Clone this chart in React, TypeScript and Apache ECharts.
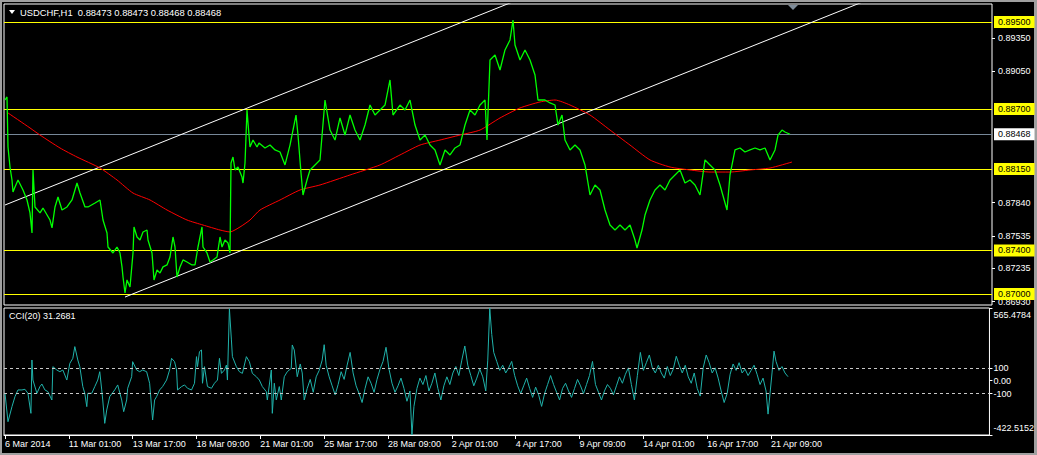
import React, { useEffect, useRef } from "react";
import * as echarts from "echarts";

const FONT = "Liberation Sans";
const symbolTitle = "USDCHF,H1  0.88473 0.88473 0.88468 0.88468";
const cciTitle = "CCI(20) 31.2681";
const timeLabels = ["6 Mar 2014", "11 Mar 01:00", "13 Mar 17:00", "18 Mar 09:00", "21 Mar 01:00", "25 Mar 17:00", "28 Mar 09:00", "2 Apr 01:00", "4 Apr 17:00", "9 Apr 09:00", "14 Apr 01:00", "16 Apr 17:00", "21 Apr 09:00"];
const barsPerLabel = 64;
const barCount = 987;
const priceTicks = [0.8935, 0.8905, 0.8784, 0.87535, 0.87235, 0.8693];
const levelLines = [0.895, 0.887, 0.8815, 0.874, 0.87];
const lastPrice = 0.88468;
const priceMin = 0.868989;
const priceMax = 0.896654;
const cciMin = -422.5152;
const cciMax = 565.4784;
const cciLevels = [100, -100];
const cciTicks = [565.4784, 100, 0, -100, -422.5152];
const cciTickLabels = ["565.4784", "100", "0.00", "-100", "-422.5152"];

// [bar index, price]
const price: [number, number][] = [
  [0, 0.88783], [2, 0.88811], [3, 0.88351], [5, 0.88167], [7, 0.88048], [8, 0.87938], [10, 0.87983], [13, 0.88048],
  [18, 0.87956], [22, 0.87864], [25, 0.87745], [27, 0.87561], [28, 0.8814], [30, 0.878], [35, 0.87745], [38, 0.8779],
  [45, 0.8768], [47, 0.87607], [50, 0.878], [53, 0.87892], [57, 0.87772], [62, 0.878], [67, 0.87864], [72, 0.8802],
  [75, 0.87928], [80, 0.878], [83, 0.878], [90, 0.87836], [95, 0.87864], [98, 0.8768], [102, 0.87561], [103, 0.87432],
  [108, 0.87377], [112, 0.87432], [115, 0.87377], [117, 0.87249], [118, 0.87156], [120, 0.87009], [122, 0.87129], [125, 0.87064],
  [128, 0.87377], [129, 0.87616], [132, 0.87524], [135, 0.87496], [138, 0.8757], [142, 0.87588], [143, 0.87496], [147, 0.87377],
  [149, 0.87129], [152, 0.87221], [155, 0.87193], [158, 0.87249], [162, 0.87267], [165, 0.8734], [168, 0.87524], [170, 0.87432],
  [172, 0.87156], [175, 0.87249], [178, 0.87313], [182, 0.87294], [187, 0.87267], [190, 0.87267], [193, 0.87432], [197, 0.87616],
  [198, 0.87432], [202, 0.87377], [205, 0.87294], [208, 0.87313], [212, 0.8734], [215, 0.87524], [217, 0.87432], [220, 0.87496],
  [223, 0.87469], [225, 0.87377], [226, 0.88204], [228, 0.88259], [230, 0.8814], [233, 0.88167], [237, 0.88075], [238, 0.8802],
  [240, 0.88204], [242, 0.88691], [243, 0.88572], [245, 0.88351], [248, 0.88415], [252, 0.88351], [254, 0.88388], [260, 0.88342],
  [265, 0.88369], [270, 0.88324], [275, 0.88305], [280, 0.88186], [285, 0.88369], [291, 0.88645], [293, 0.88461], [296, 0.88112],
  [298, 0.8791], [302, 0.88048], [305, 0.8814], [310, 0.88186], [315, 0.88232], [320, 0.88783], [325, 0.88507], [330, 0.88415],
  [335, 0.88618], [340, 0.88461], [345, 0.88645], [350, 0.88507], [355, 0.88415], [360, 0.88553], [365, 0.88737], [370, 0.88645],
  [375, 0.88691], [380, 0.88737], [385, 0.88967], [388, 0.88645], [395, 0.88737], [400, 0.88691], [405, 0.88783], [410, 0.88553],
  [415, 0.88415], [420, 0.88461], [425, 0.88369], [430, 0.88324], [435, 0.88186], [440, 0.88324], [445, 0.88278], [450, 0.88342],
  [455, 0.88369], [460, 0.88553], [465, 0.88691], [470, 0.88645], [475, 0.88737], [480, 0.88783], [482, 0.88415], [485, 0.89151],
  [490, 0.89197], [495, 0.89059], [500, 0.89243], [505, 0.89335], [508, 0.89518], [510, 0.89289], [515, 0.89151], [520, 0.89243],
  [525, 0.89151], [530, 0.89013], [533, 0.88783], [540, 0.88783], [545, 0.88756], [550, 0.88737], [553, 0.88553], [557, 0.88645],
  [560, 0.88415], [565, 0.88324], [570, 0.88369], [575, 0.88324], [580, 0.88186], [585, 0.8791], [590, 0.88002], [595, 0.87956],
  [600, 0.87772], [605, 0.87634], [610, 0.87588], [615, 0.87634], [620, 0.87588], [625, 0.87634], [630, 0.87496], [632, 0.87423],
  [637, 0.87588], [640, 0.87726], [645, 0.87864], [650, 0.87956], [655, 0.88002], [660, 0.87956], [665, 0.88048], [670, 0.88094],
  [675, 0.8814], [680, 0.8802], [685, 0.88048], [690, 0.88002], [695, 0.8791], [700, 0.88232], [705, 0.88186], [710, 0.8814],
  [715, 0.88002], [722, 0.87772], [725, 0.88094], [730, 0.88324], [735, 0.88342], [740, 0.88305], [745, 0.88324], [750, 0.88342],
  [755, 0.88324], [760, 0.88342], [765, 0.88232], [770, 0.88324], [773, 0.88461], [777, 0.88507], [780, 0.88489], [785, 0.88468],
];

const movingAverage: [number, number][] = [
  [3, 0.88664], [25, 0.88526], [35, 0.88461], [55, 0.88342], [72, 0.88259], [95, 0.88158], [112, 0.88048], [128, 0.87928],
  [145, 0.87864], [162, 0.87772], [182, 0.8768], [198, 0.87634], [215, 0.87588], [225, 0.8757], [235, 0.87616], [245, 0.8768],
  [255, 0.87772], [275, 0.87864], [295, 0.87956], [315, 0.88002], [345, 0.88094], [375, 0.88186], [395, 0.88278], [415, 0.88369],
  [435, 0.88415], [455, 0.88461], [475, 0.88507], [495, 0.88618], [515, 0.8871], [535, 0.88765], [550, 0.88783], [565, 0.88737],
  [585, 0.88645], [605, 0.88507], [625, 0.88369], [645, 0.88232], [665, 0.88167], [685, 0.8814], [705, 0.88121], [725, 0.88121],
  [745, 0.8814], [765, 0.88158], [787, 0.88213],
];

const channelUpper: [number, number][] = [[0, 0.87818], [520, 0.8973]];
const channelLower: [number, number][] = [[120, 0.86972], [900, 0.8984]];

const cci: [number, number][] = [
  [0, -98], [3, -319], [7, -202], [10, -124], [13, -72], [17, -72], [20, -67], [23, -98], [26, -254], [27, 161], [28, 5],
  [32, -98], [35, -46], [37, -26], [40, -72], [43, -85], [47, -150], [48, 109], [52, 83], [55, 70], [58, 83], [62, 5],
  [65, 135], [68, 174], [70, 265], [73, 161], [75, 109], [78, -46], [80, -98], [82, -202], [83, -98], [87, -98], [90, -46],
  [93, 5], [95, 70], [97, -72], [98, -150], [100, -332], [102, -228], [105, -124], [110, -72], [113, -33], [117, -150],
  [119, -241], [122, -150], [123, -59], [127, 31], [128, 148], [132, 83], [135, 70], [138, 83], [142, 70], [145, -20],
  [148, -306], [150, -150], [152, -124], [155, -72], [158, -46], [162, 5], [165, 83], [167, 174], [170, 148], [172, 83],
  [173, -72], [177, -46], [180, -33], [183, -59], [187, -72], [190, -20], [192, 187], [193, 109], [195, 226], [197, 239],
  [198, -20], [200, 109], [203, -46], [207, -59], [210, -20], [213, 5], [215, 174], [217, 57], [220, 83], [222, 122],
  [223, 5], [225, 560], [227, 317], [228, 187], [232, 109], [235, 70], [238, 57], [242, 187], [245, 148], [248, 57],
  [252, 31], [255, 5], [258, -46], [262, -85], [263, -150], [267, 83], [268, -254], [270, -20], [272, -150], [275, -46],
  [277, -150], [280, 31], [283, 70], [287, 96], [288, 278], [290, 239], [293, 31], [296, 130], [298, 60], [300, -150],
  [303, -60], [306, 10], [309, -90], [312, 30], [315, 80], [318, 160], [320, 280], [322, 120], [325, 30], [328, -40],
  [331, -110], [334, -30], [337, 70], [340, 10], [343, 120], [346, 220], [349, 60], [352, -40], [355, -100], [358, -170],
  [361, -60], [364, 30], [367, -20], [370, -90], [373, 10], [376, 90], [379, 150], [382, 260], [385, 90], [388, -20],
  [391, -90], [394, -40], [397, 20], [400, -60], [403, -160], [406, -80], [408, -422], [410, -200], [413, -60], [416, 20],
  [419, -30], [422, 40], [425, -80], [428, -20], [431, 60], [434, -60], [437, -150], [440, -40], [443, 30], [446, -30],
  [449, 60], [452, 110], [455, 40], [458, 160], [461, 270], [464, 120], [467, 40], [470, -40], [473, 20], [476, 90],
  [479, 30], [482, -80], [484, 160], [486, 565], [488, 360], [490, 220], [493, 150], [496, 80], [499, 120], [502, 60],
  [505, 100], [508, 150], [511, 40], [514, -40], [517, -100], [520, -40], [523, 20], [526, -60], [529, -130], [532, -50],
  [535, -110], [538, -200], [541, -100], [544, -30], [547, 40], [550, -30], [553, -90], [556, -150], [559, -60], [562, -20],
  [565, -80], [568, -130], [571, -60], [574, 10], [577, -40], [580, -100], [583, -30], [586, 40], [589, 150], [592, -30],
  [595, -90], [598, -150], [601, -80], [604, -30], [607, -60], [610, -110], [613, -40], [616, 30], [619, -20], [622, 50],
  [625, 100], [628, -30], [631, -150], [634, 40], [637, 220], [640, 80], [643, 140], [646, 200], [649, 100], [652, 60],
  [655, 120], [658, 60], [661, 20], [664, 110], [667, 40], [670, 90], [673, 190], [676, 120], [679, 60], [682, 120],
  [685, 30], [688, -20], [691, 60], [694, -60], [697, -120], [700, 100], [703, 200], [706, 140], [709, 60], [712, 100],
  [715, 20], [718, -80], [721, -170], [724, -100], [727, 50], [730, 130], [733, 80], [736, 140], [739, 60], [742, 90],
  [745, 40], [748, 80], [751, 120], [754, 50], [757, -30], [760, 20], [763, -80], [765, -260], [767, -100], [769, 60],
  [771, 230], [773, 150], [776, 80], [779, 110], [782, 60], [785, 31.2681],
];

const tickIdx = timeLabels.map((_, i) => i * barsPerLabel);

function buildOption(): any {
  const txt = { fontFamily: FONT, fontSize: 9 };
  const levelData: any[] = levelLines.map((v) => ({
    yAxis: v,
    lineStyle: { color: "#ffff00", width: 1, type: "solid" },
    label: { backgroundColor: "#ffff00", color: "#000" },
  }));
  levelData.push({
    yAxis: lastPrice,
    lineStyle: { color: "#778899", width: 1, type: "solid" },
    label: { backgroundColor: "#ffffff", color: "#000" },
  });
  return {
    animation: false,
    backgroundColor: "transparent",
    textStyle: txt,
    grid: [
      { left: 4, top: 4, width: 988, height: 301, show: true, borderColor: "#ffffff", borderWidth: 1, backgroundColor: "transparent" },
      { left: 4, top: 308, width: 988, height: 127, show: true, borderColor: "#ffffff", borderWidth: 1, backgroundColor: "transparent" },
    ],
    xAxis: [
      { type: "value", gridIndex: 0, min: -1, max: barCount, show: false, axisLine: { onZero: false } },
      {
        type: "value", gridIndex: 1, min: -1, max: barCount, position: "bottom",
        axisLine: { show: true, onZero: false, lineStyle: { color: "#ffffff" } },
        axisTick: { show: true, customValues: tickIdx, length: 4, lineStyle: { color: "#ffffff" } },
        axisLabel: {
          show: true, customValues: tickIdx, color: "#ffffff", fontFamily: FONT, fontSize: 9, align: "left", margin: 4,
          formatter: (v: number) => timeLabels[Math.round(v / barsPerLabel)] ?? "",
        },
        splitLine: { show: false },
      },
    ],
    yAxis: [
      {
        type: "value", gridIndex: 0, min: priceMin, max: priceMax, position: "right",
        axisLine: { show: false, onZero: false },
        axisTick: { show: true, customValues: priceTicks, length: 3, lineStyle: { color: "#ffffff" } },
        axisLabel: {
          show: true, customValues: priceTicks, color: "#ffffff", fontFamily: FONT, fontSize: 9, margin: 6,
          formatter: (v: number) => v.toFixed(5),
        },
        splitLine: { show: false },
      },
      {
        type: "value", gridIndex: 1, min: cciMin, max: cciMax, position: "right",
        axisLine: { show: false, onZero: false },
        axisTick: { show: true, customValues: cciTicks, length: 3, lineStyle: { color: "#ffffff" } },
        axisLabel: {
          show: true, customValues: cciTicks, color: "#ffffff", fontFamily: FONT, fontSize: 9, margin: 4,
          formatter: (v: number) => {
            let best = 0;
            cciTicks.forEach((t, i) => { if (Math.abs(t - v) < Math.abs(cciTicks[best] - v)) best = i; });
            if (best === 0) return "{top|" + cciTickLabels[best] + "}";
            if (best === cciTicks.length - 1) return "{bot|" + cciTickLabels[best] + "}";
            return cciTickLabels[best];
          },
          rich: {
            top: { color: "#ffffff", fontFamily: FONT, fontSize: 9, padding: [14, 0, 0, 0] },
            bot: { color: "#ffffff", fontFamily: FONT, fontSize: 9, padding: [0, 0, 14, 0] },
          },
        },
        splitLine: { show: false },
      },
    ],
    series: [
      {
        name: "Channel upper", type: "line", xAxisIndex: 0, yAxisIndex: 0, data: channelUpper, showSymbol: false, symbol: "none",
        lineStyle: { color: "#ffffff", width: 1 }, clip: true, silent: true, z: 2,
      },
      {
        name: "Channel lower", type: "line", xAxisIndex: 0, yAxisIndex: 0, data: channelLower, showSymbol: false, symbol: "none",
        lineStyle: { color: "#ffffff", width: 1 }, clip: true, silent: true, z: 2,
      },
      {
        name: "MA", type: "line", xAxisIndex: 0, yAxisIndex: 0, data: movingAverage, showSymbol: false, symbol: "none", smooth: 0.2,
        lineStyle: { color: "#ff0000", width: 1 }, silent: true, z: 3,
      },
      {
        name: "USDCHF", type: "line", xAxisIndex: 0, yAxisIndex: 0, data: price, showSymbol: false, symbol: "none",
        lineStyle: { color: "#00ff00", width: 1.3 }, silent: true, z: 4,
        markLine: {
          silent: true, symbol: ["none", "none"], animation: false, precision: 5,
          label: {
            show: true, position: "end", distance: 2, fontFamily: FONT, fontSize: 9, padding: [2, 4, 1, 4],
            formatter: (p: any) => Number(p.value).toFixed(5),
          },
          data: levelData,
          z: 1,
        },
      },
      {
        name: "CCI(20)", type: "line", xAxisIndex: 1, yAxisIndex: 1, data: cci, showSymbol: false, symbol: "none",
        lineStyle: { color: "#20b2aa", width: 1 }, silent: true, z: 4,
        markLine: {
          silent: true, symbol: ["none", "none"], animation: false, precision: 2, label: { show: false },
          lineStyle: { color: "#c8c8c8", width: 1, type: [3, 3] },
          data: cciLevels.map((v) => ({ yAxis: v })),
        },
      },
    ],
    graphic: [
      { type: "polygon", shape: { points: [[9, 10], [15, 10], [12, 14]] }, style: { fill: "#ffffff" }, silent: true },
      { type: "text", x: 20, y: 12, style: { text: symbolTitle, fill: "#ffffff", font: `9.4px "${FONT}"`, textVerticalAlign: "middle" }, silent: true },
      { type: "text", x: 9, y: 316, style: { text: cciTitle, fill: "#ffffff", font: `9px "${FONT}"`, textVerticalAlign: "middle" }, silent: true },
      { type: "polygon", shape: { points: [[788, 5], [798, 5], [793, 10]] }, style: { fill: "#7f8c99" }, silent: true },
    ],
  };
}

export default function App() {
  const ref = useRef<HTMLDivElement>(null);
  useEffect(() => {
    if (!ref.current) return;
    const chart = echarts.init(ref.current, null, { renderer: "svg" });
    chart.setOption(buildOption());
    return () => chart.dispose();
  }, []);
  return (
    <div style={{ position: "fixed", left: 0, top: 0, width: 1037, height: 455, background: "#a0a0a0", overflow: "hidden" }}>
      <div style={{ position: "absolute", left: 2, top: 2, width: 1032, height: 451, background: "#000000" }} />
      <div ref={ref} style={{ position: "absolute", left: 0, top: 0, width: 1037, height: 455 }} />
    </div>
  );
}
